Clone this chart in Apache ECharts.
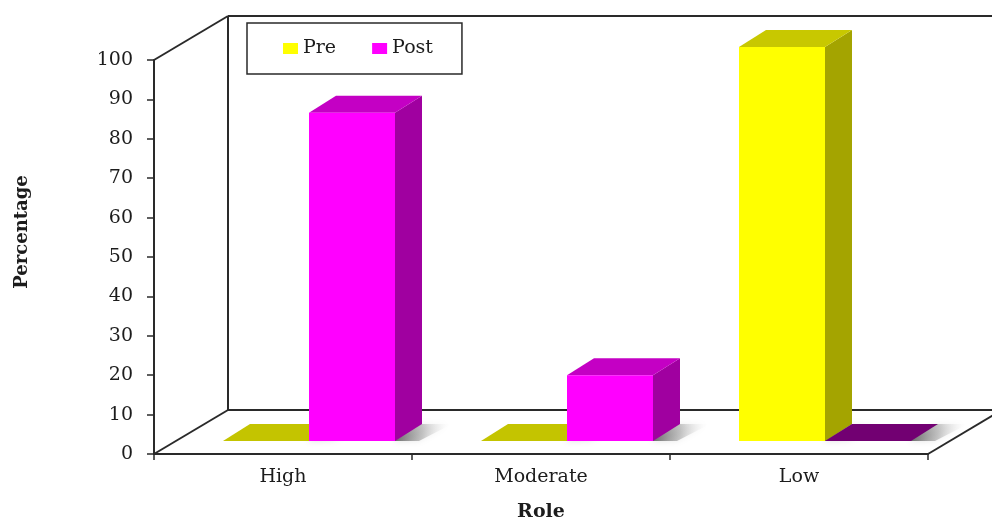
<!DOCTYPE html>
<html>
<head>
<meta charset="utf-8">
<script src="https://cdn.jsdelivr.net/npm/echarts@6/dist/echarts.min.js"></script>
<style>
  html, body { margin: 0; padding: 0; background: #ffffff; }
  #chart { width: 992px; height: 520px; }
</style>
</head>
<body>
<div id="chart"></div>
<script>
// ---- data ----
const categories = ['High', 'Moderate', 'Low'];
const seriesNames = ['Pre', 'Post'];
const preValues = [0, 0, 100];
const postValues = [83.3, 16.7, 0];
const axisMin = 0;
const axisMax = 100;
const axisStep = 10;

// ---- look ----
const FONT = '"DejaVu Serif", "Liberation Serif", serif';
const LINE = '#2a2a2a';
const TEXT = '#1c1c1c';
// oblique projection of the chart box: how far the back wall sits up and right
const BOX_DEPTH = [74, -44];
// where the bar front faces sit on the floor, and how deep each bar is
const BAR_FRONT = [26, -13];
const BAR_DEPTH = [27, -17];

const palette = {
  Pre:  { front: '#ffff00', side: '#a4a400', top: '#c8c800', flat: '#c4c400' },
  Post: { front: '#ff00ff', side: '#a000a0', top: '#c400c4', flat: '#720072' }
};

const chart = echarts.init(document.getElementById('chart'), null, { renderer: 'canvas' });

// back wall, floor and the receding edges of the box
function renderFrame(params) {
  const cs = params.coordSys;
  const dx = BOX_DEPTH[0], dy = BOX_DEPTH[1];
  const L = cs.x, T = cs.y, R = cs.x + cs.width, B = cs.y + cs.height;
  const line = (x1, y1, x2, y2) => ({
    type: 'line',
    shape: { x1, y1, x2, y2 },
    style: { stroke: LINE, lineWidth: 2 }
  });
  return {
    type: 'group',
    children: [
      line(L, T, L + dx, T + dy),
      line(L + dx, T + dy, L + dx, B + dy),
      line(L + dx, T + dy, R + dx, T + dy),
      line(L + dx, B + dy, R + dx, B + dy),
      line(L, B, L + dx, B + dy),
      line(R, B, R + dx, B + dy)
    ]
  };
}

// a 3-D column: front face, right side, top; a zero value leaves only its lid on the floor
function columnRenderer(name, slot) {
  const c = palette[name];
  return function (params, api) {
    const i = api.value(0);
    const v = api.value(1);
    const base = api.coord([i, 0]);
    const tip = api.coord([i, v]);
    const band = api.size([1, 0])[0];
    const w = band / 3;
    const x0 = base[0] + BAR_FRONT[0] + (slot === 0 ? -w : 0);
    const x1 = x0 + w;
    const yb = base[1] + BAR_FRONT[1];
    const yt = tip[1] + BAR_FRONT[1];
    const dx = BAR_DEPTH[0], dy = BAR_DEPTH[1];
    const children = [];

    // soft shadow on the floor to the right of the column
    children.push({
      type: 'polygon',
      shape: { points: [[x1 - 2, yb], [x1 + 24, yb], [x1 + dx + 30, yb + dy], [x1 + dx - 2, yb + dy]] },
      style: {
        fill: {
          type: 'linear', x: 0, y: 0, x2: 1, y2: 0,
          colorStops: [
            { offset: 0, color: 'rgba(40,40,40,0.7)' },
            { offset: 0.5, color: 'rgba(110,110,110,0.35)' },
            { offset: 1, color: 'rgba(255,255,255,0)' }
          ]
        },
        shadowBlur: 6,
        shadowColor: 'rgba(0,0,0,0.2)'
      }
    });

    if (v > 0) {
      children.push({
        type: 'polygon',
        shape: { points: [[x1, yb], [x1 + dx, yb + dy], [x1 + dx, yt + dy], [x1, yt]] },
        style: { fill: c.side }
      });
      children.push({
        type: 'polygon',
        shape: { points: [[x0, yt], [x1, yt], [x1 + dx, yt + dy], [x0 + dx, yt + dy]] },
        style: { fill: c.top }
      });
      children.push({
        type: 'rect',
        shape: { x: x0, y: yt, width: w, height: yb - yt },
        style: { fill: c.front }
      });
    } else {
      children.push({
        type: 'polygon',
        shape: { points: [[x0, yb], [x1, yb], [x1 + dx, yb + dy], [x0 + dx, yb + dy]] },
        style: { fill: c.flat }
      });
    }
    return { type: 'group', children };
  };
}

const valuesByName = { Pre: preValues, Post: postValues };

const option = {
  animation: false,
  backgroundColor: '#ffffff',
  textStyle: { fontFamily: FONT },
  grid: { left: 154, right: 64, top: 60, bottom: 66, containLabel: false, outerBoundsMode: 'none' },
  legend: {
    data: seriesNames,
    left: 247,
    top: 23,
    orient: 'horizontal',
    padding: [15, 29, 15, 36],
    itemGap: 36,
    itemWidth: 15,
    itemHeight: 11,
    icon: 'rect',
    borderColor: LINE,
    borderWidth: 1.5,
    textStyle: { fontFamily: FONT, fontSize: 19, color: TEXT, lineHeight: 21 }
  },
  xAxis: {
    type: 'category',
    data: categories,
    boundaryGap: true,
    axisLine: { show: true, lineStyle: { color: LINE, width: 2 } },
    axisTick: { show: true, length: 6, lineStyle: { color: LINE, width: 1.5 } },
    axisLabel: { fontFamily: FONT, fontSize: 19, color: TEXT, margin: 14 },
    splitLine: { show: false },
    name: 'Role',
    nameLocation: 'middle',
    nameGap: 49,
    nameTextStyle: { fontFamily: FONT, fontSize: 19, fontWeight: 'bold', color: TEXT }
  },
  yAxis: {
    type: 'value',
    min: axisMin,
    max: axisMax,
    interval: axisStep,
    axisLine: { show: true, lineStyle: { color: LINE, width: 2 } },
    axisTick: { show: true, length: 7, lineStyle: { color: LINE, width: 1.5 } },
    axisLabel: { fontFamily: FONT, fontSize: 19, color: TEXT, margin: 21 },
    splitLine: { show: false },
    name: 'Percentage',
    nameLocation: 'middle',
    nameRotate: 90,
    nameGap: 123,
    nameTextStyle: { fontFamily: FONT, fontSize: 18, fontWeight: 'bold', color: TEXT, padding: [0, 0, 0, 50] }
  },
  series: [
    {
      name: 'frame',
      type: 'custom',
      silent: true,
      z: 1,
      renderItem: renderFrame,
      data: [[0, 0]]
    }
  ].concat(seriesNames.map((name, slot) => ({
    name,
    type: 'custom',
    z: 3,
    itemStyle: { color: palette[name].front },
    encode: { x: 0, y: 1 },
    renderItem: columnRenderer(name, slot),
    data: valuesByName[name].map((v, i) => [i, v])
  })))
};

chart.setOption(option);
</script>
</body>
</html>
